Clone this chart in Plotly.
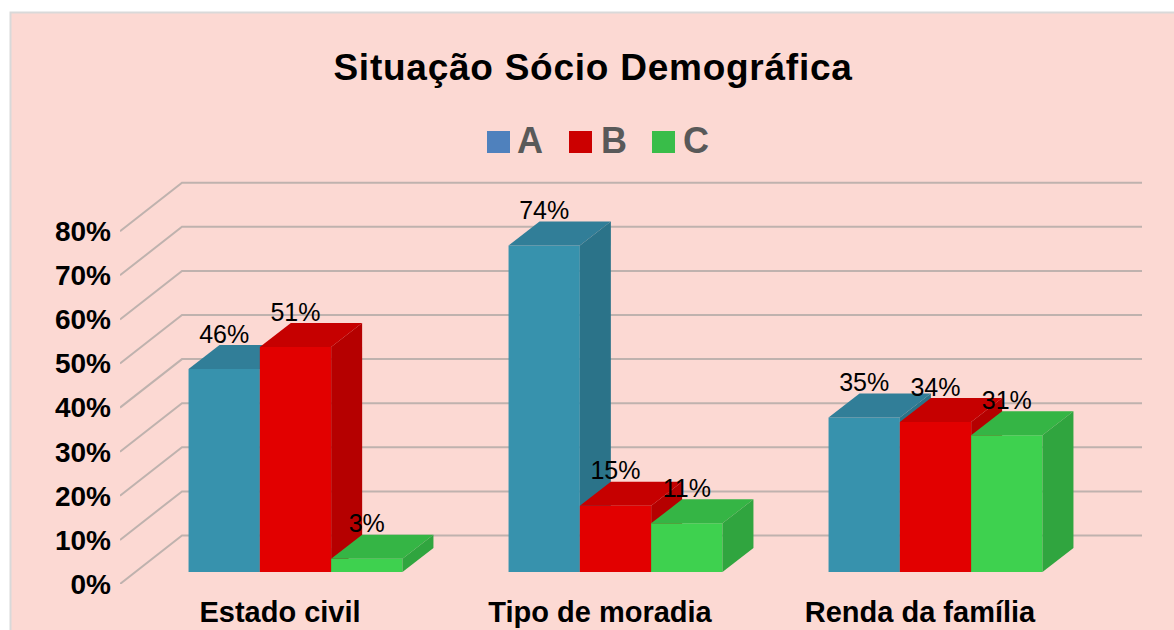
import plotly.graph_objects as go

categories = ["Estado civil", "Tipo de moradia", "Renda da família"]
series_names = ["A", "B", "C"]
values_a = [46, 74, 35]
values_b = [51, 15, 34]
values_c = [3, 11, 31]
y_ticks = [0, 10, 20, 30, 40, 50, 60, 70, 80]

W, H = 1174, 630
L, R, T, B = 120, 32, 180, 46
PX_X = 320.0   # pixels per category
PX_Y = 4.41    # pixels per percent
plot_w, plot_h = W - L - R, H - T - B
x_range = [-0.5, -0.5 + plot_w / PX_X]
y_range = [0, plot_h / PX_Y]

bar_w = 71.3 / PX_X
bar_dx, bar_dy = 31 / PX_X, 24 / PX_Y      # bar depth
wall_dx, wall_dy = 62 / PX_X, 48.5 / PX_Y  # wall depth
base = wall_dy / 4
shift = wall_dx / 4
lift = 32.5 / PX_Y

styles = [
    dict(front="#3792AD", top="#317E98", side="#2B7389", swatch="#4F81BD"),
    dict(front="#E20000", top="#C60000", side="#B50000", swatch="#CC0000"),
    dict(front="#3ED14F", top="#35B545", side="#30A53F", swatch="#39BD49"),
]
GRID = "#BFB2AE"
FONT = "Liberation Sans"

fig = go.Figure()

# wall grid lines, on the base axes
gx, gy = [], []
for v in y_ticks:
    gx += [x_range[0], x_range[0] + wall_dx, x_range[1], None]
    gy += [v, v + wall_dy, v + wall_dy, None]
fig.add_trace(go.Scatter(x=gx, y=gy, mode="lines", line=dict(color=GRID, width=2),
                         hoverinfo="skip", showlegend=False))

all_values = [values_a, values_b, values_c]
for k, vals in enumerate(all_values):
    xa, ya = f"x{k + 2}", f"y{k + 2}"
    st = styles[k]
    xs = [i + shift + (k - 1) * bar_w for i in range(len(vals))]
    fig.add_trace(go.Bar(x=xs, y=vals, base=[base] * len(vals), width=bar_w, name=series_names[k],
                         marker=dict(color=st["front"], line=dict(width=0)),
                         xaxis=xa, yaxis=ya, showlegend=False))
    for x, v in zip(xs, vals):
        xl, xr = x - bar_w / 2, x + bar_w / 2
        top = base + v
        fig.add_trace(go.Scatter(
            x=[xl, xl + bar_dx, xr + bar_dx, xr, xl],
            y=[top, top + bar_dy, top + bar_dy, top, top],
            fill="toself", fillcolor=st["top"], mode="lines", line=dict(width=0),
            xaxis=xa, yaxis=ya, hoverinfo="skip", showlegend=False))
        fig.add_trace(go.Scatter(
            x=[xr, xr + bar_dx, xr + bar_dx, xr, xr],
            y=[base, base + bar_dy, top + bar_dy, top, base],
            fill="toself", fillcolor=st["side"], mode="lines", line=dict(width=0),
            xaxis=xa, yaxis=ya, hoverinfo="skip", showlegend=False))

# value labels, on the topmost axes
for k, vals in enumerate(all_values):
    xs = [i + shift + (k - 1) * bar_w for i in range(len(vals))]
    fig.add_trace(go.Scatter(
        x=xs, y=[base + v + lift for v in vals], text=[f"{v}%" for v in vals],
        mode="text", textposition="middle center",
        textfont=dict(family=FONT, size=25, color="#000000"),
        xaxis="x4", yaxis="y4", hoverinfo="skip", showlegend=False))

def px(x):
    return (x - L) / plot_w

def py(y):
    return 1 - (y - T) / plot_h

# card behind the chart
shapes = [dict(type="rect", xref="paper", yref="paper", layer="below",
               x0=px(10.5), x1=px(W + 10), y0=py(12.5), y1=py(H + 10),
               fillcolor="#FCD9D3", line=dict(color="#D9D9D9", width=2))]
annotations = []
legend_pos = [(487, 515), (569, 599), (652, 681)]
for (sx, tx), name, st in zip(legend_pos, series_names, styles):
    shapes.append(dict(type="rect", xref="paper", yref="paper",
                       x0=px(sx), x1=px(sx + 23), y0=py(131), y1=py(153),
                       fillcolor=st["swatch"], line=dict(width=0)))
    annotations.append(dict(text=name, xref="paper", yref="paper", x=px(tx), y=py(141),
                            xanchor="left", yanchor="middle", showarrow=False,
                            font=dict(family=FONT, size=36, color="#595959", weight="bold")))

layout = dict(
    width=W, height=H, margin=dict(l=L, r=R, t=T, b=B, autoexpand=False),
    paper_bgcolor="#FFFFFF", plot_bgcolor="rgba(0,0,0,0)",
    showlegend=False, shapes=shapes, annotations=annotations,
    title=dict(text="<b>Situação Sócio Demográfica</b>", x=593 / W, y=1 - 67 / H,
               xanchor="center", yanchor="middle", xref="container", yref="container",
               automargin=False,
               font=dict(family=FONT, size=37, color="#000000")),
    xaxis=dict(range=x_range, tickmode="array", tickvals=list(range(len(categories))),
               ticktext=categories, showgrid=False, zeroline=False, showline=False, ticks="",
               ticklabelstandoff=8, automargin=False,
               tickfont=dict(family=FONT, size=29, color="#000000", weight="bold")),
    yaxis=dict(range=y_range, tickmode="array", tickvals=y_ticks,
               ticktext=[f"{v}%" for v in y_ticks], showgrid=False, zeroline=False,
               showline=False, ticks="", ticklabelstandoff=8, automargin=False,
               tickfont=dict(family=FONT, size=28, color="#000000", weight="bold")),
)
for n in (2, 3, 4):
    layout[f"xaxis{n}"] = dict(range=x_range, overlaying="x", visible=False)
    layout[f"yaxis{n}"] = dict(range=y_range, overlaying="y", visible=False)
fig.update_layout(**layout)

post = ("document.body.style.margin='0';"
        "document.querySelectorAll('.gtitle').forEach(function(t){t.style.letterSpacing='0.75px';});")
fig.write_html("out.html", config=dict(displayModeBar=False), post_script=post)
